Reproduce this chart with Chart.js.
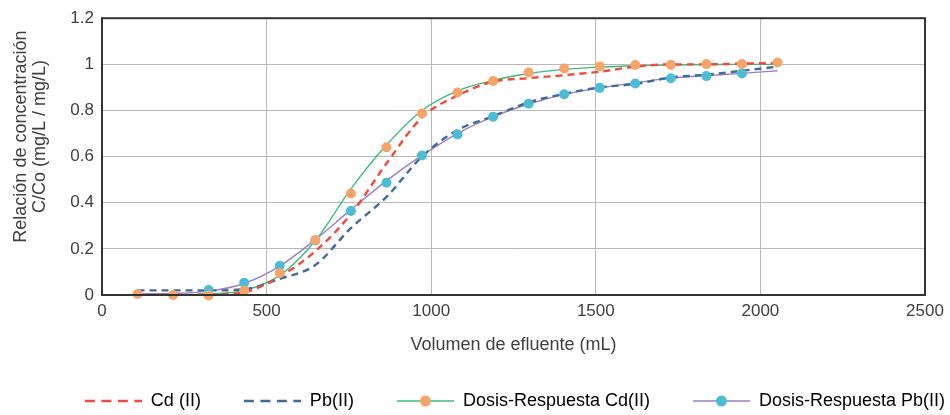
<!DOCTYPE html>
<html lang="es">
<head>
<meta charset="utf-8">
<title>Curvas de ruptura Cd(II) y Pb(II)</title>
<script src="https://cdn.jsdelivr.net/npm/chart.js@4.4.1/dist/chart.umd.min.js"></script>
<style>
  html, body { margin: 0; padding: 0; background: #fff; }
</style>
</head>
<body>
<canvas id="myChart" width="950" height="415"></canvas>
<script>
// volumen de efluente (mL)
var volumen = [108, 216, 324, 432, 540, 648, 756, 864, 972, 1080, 1188, 1296, 1404, 1512, 1620, 1728, 1836, 1944, 2052];

// curvas discontinuas
var cdCurva = [0, 0, 0.002, 0.012, 0.08, 0.19, 0.35, 0.57, 0.77, 0.865, 0.925, 0.94, 0.953, 0.968, 0.99, 1.0, 1.0, 1.003, 1.006];
var pbCurva = [0.02, 0.02, 0.02, 0.025, 0.07, 0.13, 0.29, 0.425, 0.6, 0.715, 0.775, 0.835, 0.872, 0.9, 0.915, 0.943, 0.955, 0.972, 0.99];

// modelo dosis-respuesta (lineas)
var cdDosis = [0, 0, 0.005, 0.02, 0.085, 0.235, 0.46, 0.65, 0.8, 0.885, 0.93, 0.96, 0.978, 0.988, 0.994, 0.997, 0.999, 1.0, 1.0];
var pbDosis = [0.005, 0.007, 0.017, 0.05, 0.125, 0.24, 0.37, 0.495, 0.605, 0.7, 0.773, 0.828, 0.87, 0.898, 0.92, 0.94, 0.951, 0.961, 0.972];

// puntos
var cdPuntos = [0.004, 0, -0.002, 0.019, 0.094, 0.238, 0.44, 0.64, 0.787, 0.878, 0.928, 0.965, 0.982, 0.991, 0.997, 0.998, 1.001, 1.001, 1.008];
var pbPuntos = [null, null, 0.022, 0.053, 0.127, 0.236, 0.364, 0.487, 0.605, 0.696, 0.773, 0.829, 0.87, 0.898, 0.917, 0.94, 0.949, 0.96, null];

var xTicks = [0, 500, 1000, 1500, 2000, 2500];
var etiquetas = ['Cd (II)', 'Pb(II)', 'Dosis-Respuesta Cd(II)', 'Dosis-Respuesta Pb(II)'];

var rojo = '#ef4b3c', azul = '#3f6a9c', verde = '#3dbb7e', morado = '#9a80c4';
var naranja = '#f6a56a', celeste = '#4dbdd6';
var gris = '#404040';

function pares(ys) {
  return volumen.map(function(v, i) { return {x: v, y: ys[i]}; });
}

// icono de leyenda: linea (con marcador opcional)
function iconoLeyenda(color, dash, ancho, marcador) {
  var c = document.createElement('canvas');
  c.width = 95; c.height = 14;
  var g = c.getContext('2d');
  g.strokeStyle = color;
  g.lineWidth = ancho;
  g.setLineDash(dash);
  g.beginPath();
  g.moveTo(38, 7);
  g.lineTo(95, 7);
  g.stroke();
  if (marcador) {
    g.fillStyle = marcador;
    g.beginPath();
    g.arc(66.5, 7, 5.5, 0, 2 * Math.PI);
    g.fill();
  }
  return c;
}

var iconos = [
  iconoLeyenda(rojo, [10, 6.5], 2.5),
  iconoLeyenda(azul, [10, 6.5], 2.5),
  iconoLeyenda(verde, [], 1.6, naranja),
  iconoLeyenda(morado, [], 1.6, celeste)
];

var marco = {
  id: 'marco',
  afterDatasetsDraw: function(chart) {
    var a = chart.chartArea, ctx = chart.ctx;
    ctx.save();
    ctx.strokeStyle = '#333333';
    ctx.lineWidth = 2;
    ctx.strokeRect(a.left, a.top, a.right - a.left, a.bottom - a.top);
    ctx.restore();
  }
};

var ctx = document.getElementById('myChart').getContext('2d');
var myChart = new Chart(ctx, {
  type: 'line',
  data: {
    datasets: [
      {label: 'Dosis-Respuesta Cd(II) puntos', data: pares(cdPuntos), showLine: false,
       pointRadius: 5, pointBackgroundColor: naranja, pointBorderWidth: 0, order: 0, clip: false},
      {label: 'Dosis-Respuesta Pb(II) puntos', data: pares(pbPuntos), showLine: false,
       pointRadius: 5, pointBackgroundColor: celeste, pointBorderWidth: 0, order: 1, clip: false},
      {label: etiquetas[0], data: pares(cdCurva), borderColor: rojo, borderWidth: 2.4, borderDash: [7, 5],
       pointRadius: 0, cubicInterpolationMode: 'monotone', order: 2},
      {label: etiquetas[1], data: pares(pbCurva), borderColor: azul, borderWidth: 2.4, borderDash: [7, 5],
       pointRadius: 0, cubicInterpolationMode: 'monotone', order: 3},
      {label: etiquetas[2], data: pares(cdDosis), borderColor: verde, borderWidth: 1.4,
       pointRadius: 0, cubicInterpolationMode: 'monotone', order: 4},
      {label: etiquetas[3], data: pares(pbDosis), borderColor: morado, borderWidth: 1.4,
       pointRadius: 0, cubicInterpolationMode: 'monotone', order: 5}
    ]
  },
  options: {
    responsive: false,
    animation: false,
    layout: {padding: {top: 18, right: 0, bottom: -5, left: 0}},
    plugins: {
      tooltip: {enabled: false},
      legend: {
        position: 'bottom',
        align: 'end',
        labels: {
          usePointStyle: true,
          pointStyleWidth: 95,
          padding: 5,
          color: gris,
          font: {family: 'Liberation Sans', size: 18},
          generateLabels: function(chart) {
            return etiquetas.map(function(t, i) {
              return {text: t, pointStyle: iconos[i], fillStyle: 'transparent',
                      strokeStyle: 'transparent', lineWidth: 0, hidden: false, datasetIndex: i + 2};
            });
          }
        }
      }
    },
    scales: {
      x: {
        type: 'linear',
        min: 0,
        max: 2500,
        afterBuildTicks: function(axis) {
          axis.ticks = xTicks.map(function(v) { return {value: v}; });
        },
        afterFit: function(axis) { axis.height = 92; },
        grid: {color: '#b8b8b8', lineWidth: 1, drawTicks: false},
        border: {display: false},
        ticks: {
          padding: 6,
          color: gris,
          font: {family: 'Liberation Sans', size: 17},
          callback: function(v) { return String(v); }
        },
        title: {
          display: true,
          text: 'Volumen de efluente (mL)',
          color: gris,
          font: {family: 'Liberation Sans', size: 18},
          padding: {top: 0, bottom: 31}
        }
      },
      y: {
        min: 0,
        max: 1.2,
        afterFit: function(axis) { axis.width = 102; },
        grid: {color: '#b8b8b8', lineWidth: 1, drawTicks: false},
        border: {display: false},
        ticks: {
          stepSize: 0.2,
          padding: 8,
          color: gris,
          font: {family: 'Liberation Sans', size: 17},
          callback: function(v) { return String(Math.round(v * 10) / 10); }
        },
        title: {
          display: true,
          text: ['        Relación de concentración', '        C/Co (mg/L / mg/L)'],
          color: gris,
          font: {family: 'Liberation Sans', size: 18, lineHeight: 1.05},
          padding: {top: 11.5, bottom: 0}
        }
      },
      // eje vacio a la derecha, solo reserva el margen
      yDer: {
        position: 'right',
        min: 0,
        max: 1.2,
        afterFit: function(axis) { axis.width = 25; },
        grid: {drawOnChartArea: false, drawTicks: false},
        border: {display: false},
        ticks: {display: false}
      }
    }
  },
  plugins: [marco]
});
</script>
</body>
</html>
